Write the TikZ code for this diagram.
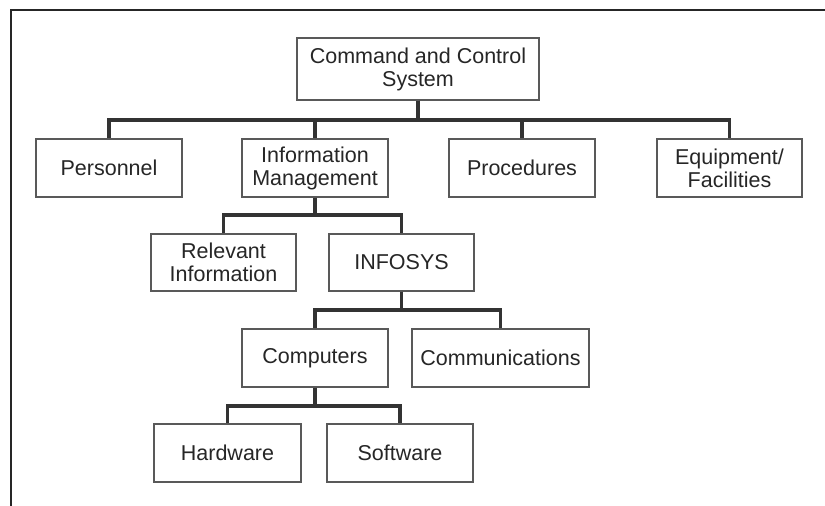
\documentclass[tikz,border=0pt]{standalone}
\usepackage{fontspec}
\setmainfont{Liberation Sans}
\begin{document}
\begin{tikzpicture}[x=1pt,y=-1pt,
  box/.style={draw=black!65, line width=1.4pt, fill=white, inner sep=0pt,
    minimum height=58, align=center, text=black!85,
    font=\fontsize{21.5}{23}\selectfont},
  link/.style={draw=black!80, line width=3.4pt, line join=miter}]
\useasboundingbox (0,0) rectangle (825,506);
\fill[white] (0,0) rectangle (825,506);
% outer frame: top and left edges only
\draw[black!85, line width=1.5pt] (825,10) -- (11,10) -- (11,506);

% tree nodes
\node[box, minimum width=242, minimum height=62] (ccs) at (418,69) {Command and Control\\System};
\node[box, minimum width=146] (pers) at (109,168) {Personnel};
\node[box, minimum width=146] (im)   at (315,168) {Information\\Management};
\node[box, minimum width=146] (proc) at (522,168) {Procedures};
\node[box, minimum width=145] (equip) at (729.5,168) {Equipment/\\Facilities};
\node[box, minimum width=145, minimum height=57] (rel) at (223.5,262.5) {Relevant\\Information};
\node[box, minimum width=145, minimum height=57] (info) at (401.5,262.5) {INFOSYS};
\node[box, minimum width=146] (comp) at (315,358) {Computers};
\node[box, minimum width=177] (comm) at (500.5,358) {Communications};
\node[box, minimum width=147] (hw) at (227.5,453) {Hardware};
\node[box, minimum width=146] (sw) at (400,453) {Software};

% bus levels
\coordinate (bus1) at (0,120);
\coordinate (bus2) at (0,215);
\coordinate (bus3) at (0,310);
\coordinate (bus4) at (0,406);

% connectors
\foreach \c in {pers,im,proc,equip}
  \draw[link] (ccs.south) |- (bus1 -| \c.north) -- (\c.north);
\foreach \c in {rel,info}
  \draw[link] (im.south) |- (bus2 -| \c.north) -- (\c.north);
\foreach \c in {comp,comm}
  \draw[link] (info.south) |- (bus3 -| \c.north) -- (\c.north);
\foreach \c in {hw,sw}
  \draw[link] (comp.south) |- (bus4 -| \c.north) -- (\c.north);
\end{tikzpicture}
\end{document}
